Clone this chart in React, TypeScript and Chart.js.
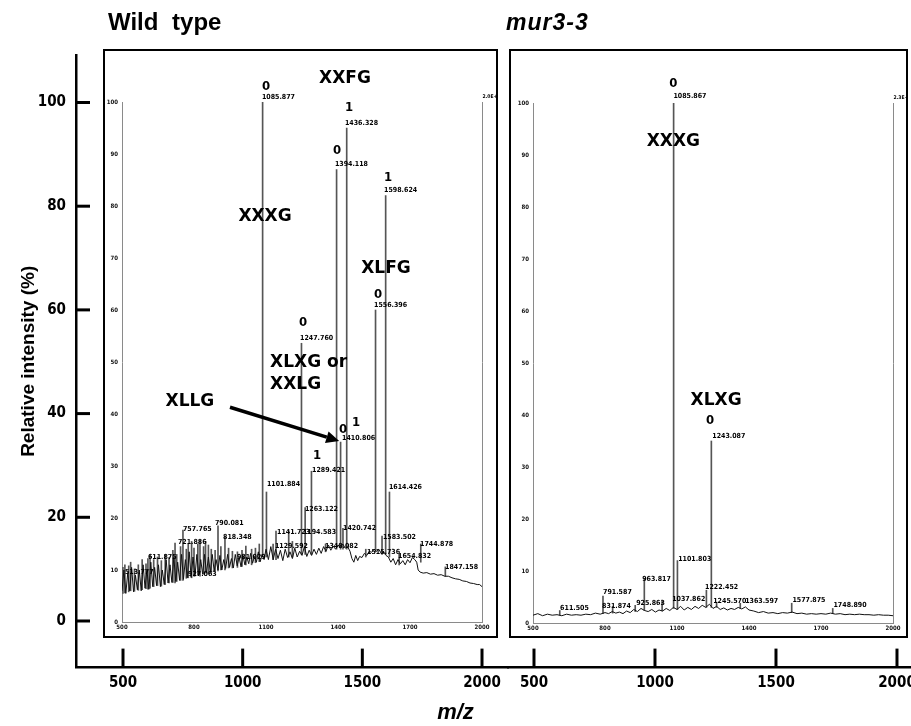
import React, { useEffect, useRef } from 'react';
import { Chart, registerables } from 'chart.js';
Chart.register(...registerables);

const FONT_C = "'DejaVu Sans Condensed', 'DejaVu Sans', sans-serif";
const FONT_B = "'DejaVu Sans', sans-serif";
const FONT_L = "'Liberation Sans', Arial, sans-serif";

// ---------- outer axes ----------
const outerIntensityTicks = [0, 20, 40, 60, 80, 100];
const outerMzTicks = [500, 1000, 1500, 2000];
// ---------- inner (instrument) axes ----------
const innerIntensityTicks = [0, 10, 20, 30, 40, 50, 60, 70, 80, 90, 100];
const innerMzTicks = [500, 800, 1100, 1400, 1700, 2000];

// ---------- Wild type spectrum: baseline trace [m/z, %] ----------
const wtTrace: [number, number][] = [
  [500, 6], [508, 10], [516, 5.5], [524, 9.5], [532, 6], [540, 10.5], [548, 5.8], [556, 9], [564, 6.2], [572, 10],
  [580, 6], [588, 11], [596, 6.5], [604, 10], [612, 6.3], [620, 11.5], [628, 6.8], [636, 10.5], [644, 7], [652, 11],
  [660, 6.8], [668, 10], [676, 7.2], [684, 12], [692, 7.5], [700, 11], [708, 7.6], [716, 12.5], [724, 7.8], [732, 11.5],
  [740, 8], [748, 13], [756, 8.2], [764, 12], [772, 8.5], [780, 13.5], [788, 8.6], [796, 12.5], [804, 8.8], [812, 13],
  [820, 9], [828, 12], [836, 9.2], [844, 13], [852, 9.4], [860, 12.5], [868, 9.5], [876, 13], [884, 9.8], [892, 12],
  [900, 10], [908, 12.8], [916, 10], [924, 12], [932, 10.3], [940, 13], [948, 10.5], [956, 12.2], [964, 10.4], [972, 13],
  [980, 10.8], [988, 12.5], [996, 10.6], [1004, 12.8], [1012, 11], [1020, 12.5], [1028, 11.2], [1036, 13.2], [1044, 11.3], [1052, 12.6],
  [1060, 11.5], [1068, 13.5], [1076, 11.6], [1084, 13], [1092, 12], [1100, 14],
  [1110, 12], [1120, 14.5], [1130, 12], [1140, 14], [1150, 12.2], [1160, 13.8], [1170, 11.8], [1180, 14], [1190, 12.4], [1200, 13.5],
  [1210, 12.2], [1220, 14.2], [1230, 12.5], [1240, 13.6], [1250, 12.8], [1260, 14.5], [1270, 12.6], [1280, 13.8], [1290, 12.8], [1300, 14],
  [1310, 13], [1320, 14.2], [1330, 13.2], [1340, 14.5], [1350, 13.6], [1360, 14.8], [1370, 13.8], [1380, 14.6], [1390, 14], [1400, 14.8],
  [1410, 14.4], [1420, 15], [1430, 14.2], [1440, 14.5], [1450, 13.6], [1458, 12.2], [1466, 11.5], [1474, 12.8], [1482, 11.8], [1490, 12.6],
  [1500, 12.4], [1510, 13.2], [1520, 12.8], [1530, 13.6], [1540, 13.4], [1550, 14], [1560, 13.6], [1570, 14], [1580, 13.2], [1590, 13.5],
  [1600, 12.8], [1610, 12.5], [1620, 11.5], [1630, 12.2], [1640, 11], [1650, 12], [1660, 11.2], [1670, 11.8], [1680, 11], [1690, 12],
  [1700, 11.4], [1710, 12.4], [1720, 12], [1728, 11.5], [1734, 10], [1742, 9.6], [1755, 9.4], [1770, 9.5], [1785, 9.2], [1800, 9.3],
  [1815, 9], [1830, 9.1], [1845, 8.8], [1860, 8.8], [1875, 8.5], [1890, 8.3], [1905, 8.2], [1920, 7.9], [1935, 7.8], [1950, 7.5],
  [1965, 7.4], [1980, 7.2], [1990, 7.2], [2000, 6.8],
];

// Wild type peaks: [m/z, foot %, top %]
const wtPeaks: [number, number, number][] = [
  [504, 5.5, 10.5], [512, 5.6, 11], [528, 5.8, 10.8], [536, 6, 11.5], [552, 5.9, 10.2], [568, 6.1, 11],
  [584, 6.2, 12], [600, 6.4, 11.2], [608, 6.3, 12.2], [632, 6.8, 12], [648, 7, 12.5], [664, 6.9, 11.8],
  [680, 7.2, 13], [696, 7.5, 12.4], [712, 7.6, 13.8], [728, 7.8, 13], [744, 8, 14.5], [768, 8.4, 14],
  [776, 8.5, 15], [800, 8.8, 14.2], [816, 9, 15], [840, 9.2, 14.5], [848, 9.4, 15.5], [872, 9.5, 14],
  [888, 9.8, 13.8], [912, 10, 14.5], [944, 10.4, 14.2], [960, 10.4, 13.6], [1000, 10.7, 13.8], [1016, 11, 14.6],
  [1056, 11.4, 14.2], [1072, 11.6, 15],
  [617, 6.5, 12.9], [721, 7.5, 15.2], [754, 8, 17.7], [790, 8.5, 15.5], [825, 8.8, 15.8], [860, 9.2, 14.8],
  [900, 9.8, 18.5], [929, 10, 16.4], [981, 10.5, 13.5], [1040, 11, 14],
  [1085.9, 12.5, 100], [1101.9, 12.5, 25], [1129.6, 12, 15], [1141.7, 12, 17.5], [1194.6, 12.5, 17.5], [1210, 12.5, 15.5],
  [1247.8, 13, 53.6], [1263.1, 13, 22], [1289.4, 13, 29], [1348.1, 13.5, 15], [1394.1, 14, 87], [1410.8, 14, 34.6],
  [1420.7, 14, 18], [1436.3, 14, 95], [1515.7, 12.5, 14], [1556.4, 13.5, 60], [1583.5, 13, 16.5], [1598.6, 13, 82],
  [1614.4, 12.5, 25], [1654.8, 11, 13], [1744.9, 11.5, 15], [1847.2, 8.8, 10.6],
];

// Wild type annotations: [text, m/z, %, kind]
const wtNotes: [string, number, number, string][] = [
  ['XXFG', 1429, 104.6, 'B'], ['XXXG', 1096, 78, 'B'], ['XLFG', 1600, 68, 'B'], ['XLLG', 783, 42.3, 'B'],
  ['XLXG or', 1117, 49.8, 'L'], ['XXLG', 1117, 45.6, 'L'],
  ['0', 1083, 103, 'N'], ['1', 1429, 99, 'N'], ['0', 1379, 90.6, 'N'], ['1', 1592, 85.4, 'N'], ['0', 1550, 63, 'N'],
  ['0', 1237, 57.5, 'N'], ['0', 1404, 37, 'N'], ['1', 1458, 38.3, 'N'], ['1', 1296, 32, 'N'],
  ['1085.877', 1083, 100.9, 'T'], ['1436.328', 1429, 96, 'T'], ['1394.118', 1387, 88, 'T'], ['1598.624', 1592, 83, 'T'],
  ['1556.396', 1550, 61, 'T'], ['1247.760', 1242, 54.6, 'T'], ['1410.806', 1417, 35.4, 'T'], ['1289.421', 1292, 29.2, 'T'],
  ['1101.884', 1104, 26.5, 'T'], ['1614.426', 1612, 26, 'T'], ['1263.122', 1262, 21.7, 'T'], ['1420.742', 1421, 18, 'T'],
  ['1583.502', 1587, 16.3, 'T'], ['1744.878', 1742, 15, 'T'], ['1847.158', 1846, 10.6, 'T'], ['757.765', 754, 17.9, 'T'],
  ['790.081', 887, 19, 'T'], ['818.348', 921, 16.3, 'T'], ['721.886', 733, 15.4, 'T'], ['611.875', 608, 12.5, 'T'],
  ['1141.723', 1146, 17.3, 'T'], ['1194.583', 1254, 17.3, 'T'], ['1129.592', 1137, 14.6, 'T'], ['1348.082', 1346, 14.6, 'T'],
  ['1515.736', 1521, 13.4, 'T'], ['1654.832', 1650, 12.7, 'T'], ['981.029', 979, 12.5, 'T'], ['513.777', 512, 9.6, 'T'],
  ['927.063', 775, 9.2, 'T'], ['2.0E+4', 2002, 101, 'S'],
];
// XLLG arrow: [from m/z, from %, to m/z, to %]
const wtArrow: [number, number, number, number] = [950, 41.3, 1405, 34.8];

// ---------- mur3-3 spectrum ----------
const mutTrace: [number, number][] = [
  [500, 1.5], [520, 1.8], [540, 1.4], [560, 1.7], [580, 1.5], [600, 1.6], [620, 1.4], [640, 1.7], [660, 1.5], [680, 1.6],
  [700, 1.5], [720, 1.7], [740, 1.6], [760, 1.9], [780, 1.7], [800, 2.0], [815, 1.8], [830, 2.2], [845, 1.9], [860, 2.1],
  [875, 1.8], [890, 2.3], [905, 2.0], [920, 2.6], [935, 2.2], [950, 2.8], [965, 2.4], [980, 2.2], [995, 2.6], [1010, 2.1],
  [1025, 2.5], [1040, 2.3], [1055, 2.8], [1070, 2.4], [1085, 3.0], [1100, 2.6], [1115, 3.2], [1130, 2.5], [1145, 3.0], [1160, 2.6],
  [1175, 3.2], [1190, 2.8], [1205, 3.4], [1220, 3.0], [1235, 3.6], [1250, 2.8], [1265, 3.2], [1280, 2.6], [1295, 2.9], [1310, 2.5],
  [1325, 2.8], [1340, 2.6], [1355, 3.0], [1370, 2.7], [1385, 3.1], [1400, 2.5], [1420, 2.3], [1440, 2.0], [1460, 2.2], [1480, 1.9],
  [1500, 2.0], [1520, 1.8], [1540, 2.0], [1560, 1.9], [1580, 2.1], [1600, 1.8], [1620, 1.9], [1640, 1.7], [1660, 1.8], [1680, 1.7],
  [1700, 1.8], [1720, 1.7], [1740, 1.9], [1760, 1.7], [1780, 1.8], [1800, 1.6], [1820, 1.7], [1840, 1.6], [1860, 1.7], [1880, 1.6],
  [1900, 1.6], [1920, 1.5], [1940, 1.6], [1960, 1.5], [1980, 1.5], [2000, 1.4],
];
const mutPeaks: [number, number, number][] = [
  [611.5, 1.5, 2.4], [791.6, 1.8, 5.2], [831.9, 1.9, 3.2], [925.9, 2.2, 3.4], [963.8, 2.4, 8.6], [1037.9, 2.3, 4.2],
  [1085.9, 2.8, 100], [1101.8, 2.6, 12], [1222.5, 3, 6.3], [1243.1, 3, 35], [1265, 3, 4], [1363.6, 2.8, 3.8],
  [1577.9, 2, 3.8], [1748.9, 1.8, 2.8],
];
const mutNotes: [string, number, number, string][] = [
  ['XXXG', 1085, 92.5, 'B'], ['XLXG', 1263, 42.7, 'B'],
  ['0', 1085, 103.8, 'C'], ['0', 1238, 39, 'C'],
  ['1085.867', 1085, 101.3, 'T'], ['1243.087', 1247, 36, 'T'], ['1101.803', 1105, 12.3, 'T'], ['1222.452', 1217, 6.9, 'T'],
  ['963.817', 955, 8.5, 'T'], ['791.587', 792, 6, 'T'], ['831.874', 788, 3.3, 'T'], ['925.863', 930, 3.8, 'T'],
  ['1037.862', 1080, 4.6, 'T'], ['1245.570', 1251, 4.2, 'T'], ['1363.597', 1384, 4.2, 'T'], ['1577.875', 1581, 4.4, 'T'],
  ['1748.890', 1752, 3.5, 'T'], ['611.505', 613, 2.9, 'T'], ['2.3E+4', 2002, 101, 'S'],
];

const NOTE_STYLES: Record<string, { font: string; align: CanvasTextAlign }> = {
  B: { font: `bold 17px ${FONT_B}`, align: 'center' },
  L: { font: `bold 17px ${FONT_B}`, align: 'left' },
  N: { font: `bold 13px ${FONT_C}`, align: 'left' },
  C: { font: `bold 13px ${FONT_C}`, align: 'center' },
  T: { font: `bold 7px ${FONT_C}`, align: 'left' },
  S: { font: `bold 5px ${FONT_C}`, align: 'left' },
};

function notesPlugin(notes: [string, number, number, string][], arrow?: [number, number, number, number]) {
  return {
    id: 'notes',
    afterDraw(chart: any) {
      const { ctx } = chart;
      const xs = chart.scales.x;
      const ys = chart.scales.y;
      ctx.save();
      ctx.fillStyle = '#000';
      ctx.textBaseline = 'middle';
      for (const [text, mz, inten, kind] of notes) {
        const st = NOTE_STYLES[kind];
        ctx.font = st.font;
        ctx.textAlign = st.align;
        ctx.fillText(text, xs.getPixelForValue(mz), ys.getPixelForValue(inten));
      }
      if (arrow) {
        const x1 = xs.getPixelForValue(arrow[0]);
        const y1 = ys.getPixelForValue(arrow[1]);
        const x2 = xs.getPixelForValue(arrow[2]);
        const y2 = ys.getPixelForValue(arrow[3]);
        const ang = Math.atan2(y2 - y1, x2 - x1);
        const head = 13;
        ctx.strokeStyle = '#000';
        ctx.lineWidth = 3.5;
        ctx.beginPath();
        ctx.moveTo(x1, y1);
        ctx.lineTo(x2 - head * Math.cos(ang), y2 - head * Math.sin(ang));
        ctx.stroke();
        ctx.beginPath();
        ctx.moveTo(x2, y2);
        ctx.lineTo(x2 - head * Math.cos(ang) + 6 * Math.sin(ang), y2 - head * Math.sin(ang) - 6 * Math.cos(ang));
        ctx.lineTo(x2 - head * Math.cos(ang) - 6 * Math.sin(ang), y2 - head * Math.sin(ang) + 6 * Math.cos(ang));
        ctx.closePath();
        ctx.fill();
      }
      ctx.restore();
    },
  };
}

const zeroPad = (s: any) => {
  s.paddingLeft = 0; s.paddingRight = 0; s.paddingTop = 0; s.paddingBottom = 0;
};
const plainNum = (v: any) => String(v);

type PanelProps = {
  left: number; top: number; width: number; height: number;
  padTop: number; padRight: number; leftW: number; bottomH: number;
  trace: [number, number][]; peaks: [number, number, number][];
  notes: [string, number, number, string][]; arrow?: [number, number, number, number];
};

function Panel(p: PanelProps) {
  const ref = useRef<HTMLCanvasElement>(null);
  const cw = p.width - 4;
  const ch = p.height - 4;
  useEffect(() => {
    const tickFont = { family: FONT_C, size: 6, weight: 'bold' as const };
    const dashBorder = { display: true, color: '#8a8a8a', width: 1, dash: [2, 2] };
    const chart = new Chart(ref.current as HTMLCanvasElement, {
      type: 'bar',
      data: {
        datasets: [
          {
            type: 'line',
            data: p.trace.map(([x, y]) => ({ x, y })),
            borderColor: '#111',
            borderWidth: 1,
            pointRadius: 0,
            tension: 0,
            yAxisID: 'y',
          } as any,
          {
            type: 'bar',
            data: p.peaks.map(([x, b, t]) => ({ x, y: [b, t] })),
            backgroundColor: '#555',
            borderWidth: 0,
            barThickness: 1,
            yAxisID: 'y',
          } as any,
        ],
      },
      options: {
        animation: false,
        responsive: false,
        layout: { padding: { top: p.padTop, right: p.padRight, bottom: 0, left: 0 } },
        plugins: { legend: { display: false }, tooltip: { enabled: false }, title: { display: false } },
        scales: {
          x: {
            type: 'linear', min: 500, max: 2000, position: 'bottom', offset: false,
            afterBuildTicks: (s: any) => { s.ticks = innerMzTicks.map((v) => ({ value: v })); },
            afterFit: (s: any) => { s.height = p.bottomH; zeroPad(s); },
            grid: { display: false, drawTicks: false, offset: false },
            border: dashBorder,
            ticks: { font: tickFont, color: '#111', padding: 2, maxRotation: 0, autoSkip: false, callback: plainNum },
          },
          y: {
            type: 'linear', min: 0, max: 100, position: 'left',
            afterBuildTicks: (s: any) => { s.ticks = innerIntensityTicks.map((v) => ({ value: v })); },
            afterFit: (s: any) => { s.width = p.leftW; zeroPad(s); },
            grid: { display: false, drawTicks: false },
            border: dashBorder,
            ticks: { font: tickFont, color: '#111', padding: 4, callback: plainNum },
          },
          y2: {
            type: 'linear', min: 0, max: 100, position: 'right',
            afterFit: (s: any) => { s.width = 0; zeroPad(s); },
            grid: { display: false, drawTicks: false },
            border: dashBorder,
            ticks: { display: false },
          },
        },
      } as any,
      plugins: [notesPlugin(p.notes, p.arrow)],
    });
    return () => chart.destroy();
  }, []);
  return (
    <div
      style={{
        position: 'absolute', left: p.left, top: p.top, width: p.width, height: p.height,
        border: '2px solid #000', boxSizing: 'border-box', background: 'transparent',
      }}
    >
      <canvas ref={ref} width={cw} height={ch} style={{ display: 'block', width: cw, height: ch }} />
    </div>
  );
}

const outerTicksPlugin = {
  id: 'innerTicks',
  afterDraw(chart: any) {
    const { ctx, chartArea } = chart;
    ctx.save();
    ctx.strokeStyle = '#000';
    ctx.lineWidth = 3;
    const ys = chart.scales.y;
    ys.ticks.forEach((t: any) => {
      const py = ys.getPixelForValue(t.value);
      ctx.beginPath();
      ctx.moveTo(chartArea.left, py);
      ctx.lineTo(chartArea.left + 14, py);
      ctx.stroke();
    });
    ['x', 'x2'].forEach((id) => {
      const s = chart.scales[id];
      s.ticks.forEach((t: any) => {
        const px = s.getPixelForValue(t.value);
        ctx.beginPath();
        ctx.moveTo(px, chartArea.bottom);
        ctx.lineTo(px, chartArea.bottom - 19);
        ctx.stroke();
      });
    });
    ctx.restore();
  },
};

function OuterFrame() {
  const ref = useRef<HTMLCanvasElement>(null);
  useEffect(() => {
    const tickFont = { family: FONT_C, size: 15, weight: 'bold' as const };
    const xCommon = {
      type: 'linear', position: 'bottom', stack: 'outer', offset: false,
      afterBuildTicks: (s: any) => { s.ticks = outerMzTicks.map((v) => ({ value: v })); },
      afterFit: (s: any) => { s.height = 30; zeroPad(s); },
      grid: { display: false, drawTicks: false },
      border: { display: true, color: '#000', width: 2.5 },
      ticks: { font: tickFont, color: '#000', padding: 7, maxRotation: 0, autoSkip: false, callback: plainNum },
    };
    const chart = new Chart(ref.current as HTMLCanvasElement, {
      type: 'scatter',
      data: { datasets: [{ data: [], xAxisID: 'x', yAxisID: 'y' }] },
      options: {
        animation: false,
        responsive: false,
        layout: { padding: { top: 55, right: 0, bottom: 0, left: 0 } },
        plugins: {
          legend: { display: false },
          tooltip: { enabled: false },
          title: {
            display: true, position: 'bottom', text: 'm/z', color: '#000',
            font: { family: FONT_L, size: 22, weight: 'bold', style: 'italic' },
            padding: { top: 2, bottom: 0 },
          },
        },
        scales: {
          y: {
            type: 'linear', position: 'left', min: -8.99, max: 109.16,
            afterBuildTicks: (s: any) => { s.ticks = outerIntensityTicks.map((v) => ({ value: v })); },
            afterFit: (s: any) => { s.width = 76; zeroPad(s); },
            grid: { display: false, drawTicks: false },
            border: { display: true, color: '#000', width: 2.5 },
            ticks: { font: tickFont, color: '#000', padding: 10, callback: plainNum },
            title: {
              display: true, text: 'Relative intensity (%)', color: '#000',
              font: { family: FONT_L, size: 19, weight: 'bold' },
              padding: { top: 17, bottom: 0 },
            },
          },
          x: { ...xCommon, stackWeight: 432, min: 303.6, max: 2108.6 },
          x2: { ...xCommon, stackWeight: 403, min: 392.6, max: 2057.9 },
        },
      } as any,
      plugins: [outerTicksPlugin],
    });
    return () => chart.destroy();
  }, []);
  return (
    <canvas
      ref={ref}
      width={911}
      height={726}
      style={{ position: 'absolute', left: 0, top: 0, width: 911, height: 726, display: 'block' }}
    />
  );
}

export default function App() {
  return (
    <div style={{ position: 'absolute', left: 0, top: 0, width: 911, height: 726, background: '#fff', overflow: 'hidden' }}>
      <OuterFrame />
      <Panel left={103} top={49} width={395} height={589} padTop={51} padRight={14} leftW={17} bottomH={14}
        trace={wtTrace} peaks={wtPeaks} notes={wtNotes} arrow={wtArrow} />
      <Panel left={509} top={49} width={399} height={589} padTop={52} padRight={13} leftW={22} bottomH={13}
        trace={mutTrace} peaks={mutPeaks} notes={mutNotes} />
      <div style={{ position: 'absolute', left: 108, top: 8, font: `bold 24px ${FONT_L}`, wordSpacing: 7, color: '#000', whiteSpace: 'nowrap' }}>
        Wild type
      </div>
      <div style={{ position: 'absolute', left: 506, top: 9, font: `italic bold 23px ${FONT_L}`, letterSpacing: 1, color: '#000', whiteSpace: 'nowrap' }}>
        mur3-3
      </div>
    </div>
  );
}
